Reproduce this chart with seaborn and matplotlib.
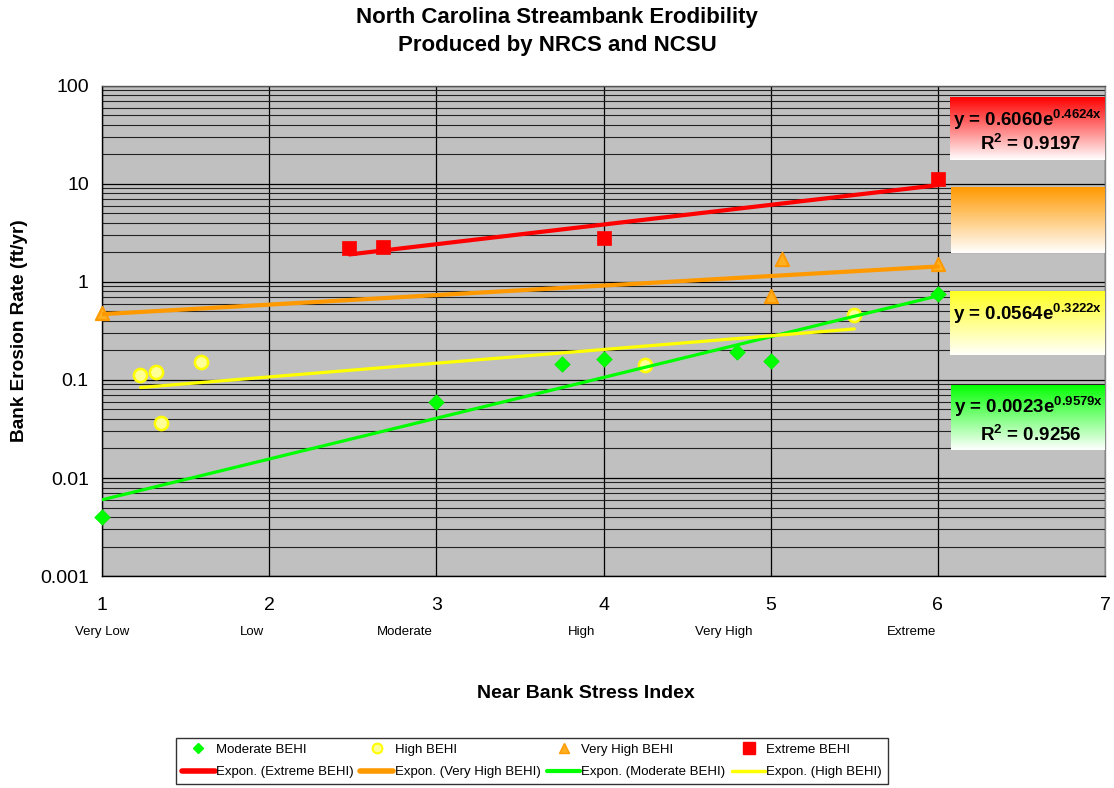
import numpy as np
import matplotlib
matplotlib.use('Agg')
import matplotlib.pyplot as plt
from matplotlib.colors import LinearSegmentedColormap
from matplotlib.lines import Line2D
from matplotlib.ticker import LogLocator, FixedLocator, NullFormatter
import seaborn as sns

# Datos
moderate_x = [1, 3, 3.75, 4, 4.8, 5, 6]
moderate_y = [0.004, 0.06, 0.145, 0.165, 0.195, 0.155, 0.76]
high_x = [1.23, 1.32, 1.35, 1.59, 4.25, 5.5]
high_y = [0.113, 0.122, 0.036, 0.152, 0.143, 0.46]
vhigh_x = [1, 5, 5.07, 6]
vhigh_y = [0.48, 0.72, 1.72, 1.53]
extreme_x = [2.48, 2.68, 4, 6]
extreme_y = [2.2, 2.25, 2.8, 11.2]

# Coeficientes de las tendencias exponenciales y = a*e^(b*x)
fit_extreme = (0.6060, 0.4624)
fit_vhigh = (0.375, 0.224)
fit_moderate = (0.0023, 0.9579)
fit_high = (0.0564, 0.3222)

ticks_y = [0.001, 0.01, 0.1, 1, 10, 100]
ticks_y_labels = ['0.001', '0.01', '0.1', '1', '10', '100']
categorias = ['Very Low', 'Low', 'Moderate', 'High', 'Very High', 'Extreme']
categorias_x = [1.0, 1.9, 2.81, 3.87, 4.72, 5.84]

sns.set_style('white')
plt.rcParams['font.family'] = ['Liberation Sans', 'DejaVu Sans']
plt.rcParams['text.color'] = 'black'
plt.rcParams['xtick.color'] = 'black'
plt.rcParams['ytick.color'] = 'black'
plt.rcParams['mathtext.fontset'] = 'custom'
plt.rcParams['mathtext.rm'] = 'Liberation Sans'
plt.rcParams['mathtext.bf'] = 'Liberation Sans:bold'

fig = plt.figure(figsize=(11.14, 7.88), dpi=100)
ax = fig.add_axes([0.0916, 0.269, 0.9004, 0.622])
ax.set_facecolor('#C0C0C0')
ax.set_yscale('log')
ax.set_xlim(1, 7)
ax.set_ylim(0.001, 100)

# Rejilla
ax.yaxis.set_major_locator(FixedLocator(ticks_y))
ax.yaxis.set_minor_locator(LogLocator(base=10, subs=np.arange(2, 10)))
ax.yaxis.set_minor_formatter(NullFormatter())
ax.set_yticklabels(ticks_y_labels)
ax.set_xticks(range(1, 8))
ax.grid(which='major', axis='both', color='black', lw=0.9)
ax.grid(which='minor', axis='y', color='#222222', lw=0.8)
ax.set_axisbelow(True)
ax.tick_params(axis='both', which='major', direction='out', length=6, width=1,
               labelsize=14, color='black', labelcolor='black')
ax.tick_params(axis='y', which='minor', length=0)
ax.tick_params(axis='x', pad=9)
for s in ax.spines.values():
    s.set_color('black')
    s.set_linewidth(1)
ax.spines['top'].set_color('#555555')
ax.spines['right'].set_color('#888888')

# Puntos
pts = [
    (moderate_x, moderate_y, 'D', '#00FF00', '#00EE00', 0.5, 62),
    (high_x, high_y, 'o', '#FFFF99', '#FFFF00', 1.8, 90),
    (vhigh_x, vhigh_y, '^', '#FFB020', '#FF9900', 1.5, 90),
    (extreme_x, extreme_y, 's', '#FF0000', '#FF0000', 0.5, 95),
]
for xs, ys, mk, fc, ec, lw, sz in pts:
    sns.scatterplot(x=xs, y=ys, marker=mk, color=fc, edgecolor=ec, linewidth=lw,
                    s=sz, ax=ax, zorder=4)
for coll in ax.collections:
    coll.set_clip_on(False)

# Lineas de tendencia
series = [(extreme_x, fit_extreme, '#FF0000', 3.0),
          (vhigh_x, fit_vhigh, '#FF9900', 3.0),
          (moderate_x, fit_moderate, '#00FF00', 2.3),
          (high_x, fit_high, '#FFFF00', 2.3)]
for xs, (a, b), col, lw in series:
    xx = np.linspace(min(xs), max(xs), 50)
    sns.lineplot(x=xx, y=a * np.exp(b * xx), color=col, linewidth=lw, ax=ax, zorder=5)

ax.set_xlabel('')
ax.set_ylabel('')

# Etiquetas de categoria bajo el eje x
for cx, cat in zip(categorias_x, categorias):
    ax.text(cx, -0.115, cat, transform=ax.get_xaxis_transform(), ha='center', va='center',
            fontsize=9.5)

# Titulos
fig.text(0.5, 1 - 18 / 788, 'North Carolina Streambank Erodibility', ha='center', va='center',
         fontsize=16, fontweight='bold')
fig.text(0.5, 1 - 46 / 788, 'Produced by NRCS and NCSU', ha='center', va='center',
         fontsize=16, fontweight='bold')
fig.text(20 / 1114, 1 - 331 / 788, 'Bank Erosion Rate (ft/yr)', rotation=90, ha='center',
         va='center', fontsize=13.7, fontweight='bold')
fig.text(586 / 1114, 1 - 693 / 788, 'Near Bank Stress Index', ha='center', va='center',
         fontsize=14, fontweight='bold')

# Cajas con las ecuaciones
def caja(x0, y0, x1, y1, color, fin='white'):
    bax = fig.add_axes([x0 / 1114, 1 - y1 / 788, (x1 - x0) / 1114, (y1 - y0) / 788])
    cmap = LinearSegmentedColormap.from_list('g', [color, fin])
    grad = np.linspace(0, 1, 256).reshape(-1, 1)
    bax.imshow(grad, aspect='auto', cmap=cmap, extent=[0, 1, 0, 1], origin='upper')
    bax.set_xlim(0, 1)
    bax.set_ylim(0, 1)
    bax.axis('off')
    return bax

kw = dict(va='center', fontsize=13.5, fontweight='bold')
b1 = caja(950, 97, 1105, 160, '#FF0000')
b1.text(0.02, 0.64, r'y = 0.6060e$^{\mathbf{0.4624x}}$', ha='left', **kw)
b1.text(0.52, 0.26, r'R$^{\mathbf{2}}$ = 0.9197', ha='center', **kw)
caja(951, 187, 1105, 253, '#FF9900')
b3 = caja(950, 291, 1105, 355, '#FFFF22', '#FFFFFA')
b3.text(0.02, 0.64, r'y = 0.0564e$^{\mathbf{0.3222x}}$', ha='left', **kw)
b4 = caja(951, 385, 1105, 450, '#00FF00')
b4.text(0.02, 0.66, r'y = 0.0023e$^{\mathbf{0.9579x}}$', ha='left', **kw)
b4.text(0.52, 0.24, r'R$^{\mathbf{2}}$ = 0.9256', ha='center', **kw)

# Leyenda
h_mod = Line2D([], [], ls='none', marker='D', color='#00FF00', ms=5)
h_high = Line2D([], [], ls='none', marker='o', mfc='#FFFF99', mec='#FFFF00', mew=1.5, ms=7)
h_vh = Line2D([], [], ls='none', marker='^', mfc='#FFB020', mec='#FF9900', ms=7)
h_ext = Line2D([], [], ls='none', marker='s', color='#FF0000', ms=8)
l_ext = Line2D([], [], color='#FF0000', lw=4)
l_vh = Line2D([], [], color='#FF9900', lw=4)
l_mod = Line2D([], [], color='#00FF00', lw=3)
l_high = Line2D([], [], color='#FFFF00', lw=2.5)
handles = [h_mod, l_ext, h_high, l_vh, h_vh, l_mod, h_ext, l_high]
labels = ['Moderate BEHI', 'Expon. (Extreme BEHI)', 'High BEHI', 'Expon. (Very High BEHI)',
          'Very High BEHI', 'Expon. (Moderate BEHI)', 'Extreme BEHI', 'Expon. (High BEHI)']
leg = fig.legend(handles, labels, loc='center', bbox_to_anchor=(532 / 1114, 1 - 761 / 788),
                 ncol=4, fontsize=9.5, frameon=True, fancybox=False, handlelength=2.5,
                 handletextpad=0.1, columnspacing=0.5, borderpad=0.45, labelspacing=0.75)
leg.get_frame().set_edgecolor('black')
leg.get_frame().set_linewidth(1)

fig.savefig('out.png', dpi=100)
